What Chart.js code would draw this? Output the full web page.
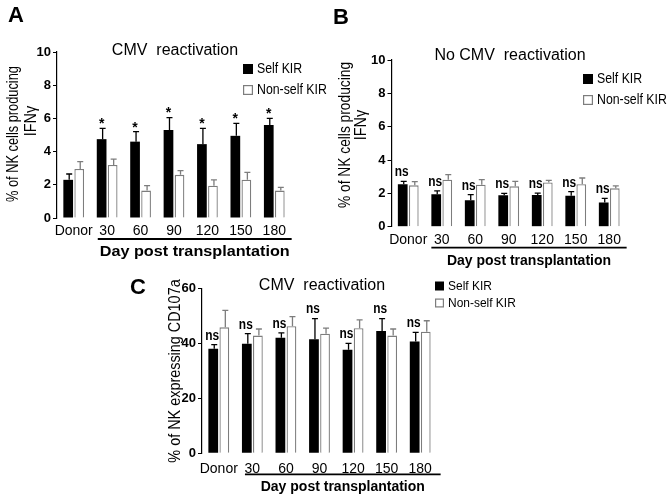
<!DOCTYPE html>
<html><head><meta charset="utf-8">
<script src="https://cdn.jsdelivr.net/npm/chart.js@4.4.0/dist/chart.umd.min.js"></script>
<style>
html,body{margin:0;padding:0;background:#fff;}
#wrap{position:relative;width:672px;height:500px;overflow:hidden;}
canvas{position:absolute;left:0;top:0;}
</style></head><body>
<div id="wrap">
<canvas id="cA" width="672" height="500"></canvas>
<canvas id="cB" width="672" height="500"></canvas>
<canvas id="cC" width="672" height="500"></canvas>
</div>
<script>
// ---------- data ----------
const categories = ['Donor', '30', '60', '90', '120', '150', '180'];
const seriesNames = ['Self KIR', 'Non-self KIR'];
const xAxisTitle = 'Day post transplantation';

// Panel A: CMV reactivation, % IFNγ+
const aSelf     = [2.3, 4.75, 4.6, 5.3, 4.45, 4.95, 5.6];
const aSelfErr  = [2.65, 5.4, 5.2, 6.05, 5.4, 5.7, 6.0];
const aNon      = [2.95, 3.2, 1.65, 2.6, 1.95, 2.3, 1.65];
const aNonErr   = [3.4, 3.55, 1.95, 2.85, 2.3, 2.75, 1.85];
const aSig      = ['', '*', '*', '*', '*', '*', '*'];

// Panel B: No CMV reactivation, % IFNγ+
const bSelf     = [2.55, 1.95, 1.58, 1.88, 1.9, 1.85, 1.45];
const bSelfErr  = [2.72, 2.15, 1.92, 2.0, 2.02, 2.1, 1.7];
const bNon      = [2.48, 2.82, 2.52, 2.42, 2.65, 2.55, 2.3];
const bNonErr   = [2.7, 3.12, 2.82, 2.72, 2.78, 2.92, 2.45];
const bSig      = ['ns', 'ns', 'ns', 'ns', 'ns', 'ns', 'ns'];

// Panel C: CMV reactivation, % CD107a+
const cSelf     = [38, 39.8, 42, 41.5, 37.7, 44.5, 40.7];
const cSelfErr  = [39.5, 43.5, 43.8, 49, 40, 49, 44];
const cNon      = [45.8, 42.8, 46.2, 43.5, 45.5, 42.8, 44.2];
const cNonErr   = [52, 45.2, 49.7, 45.5, 48.5, 45.2, 48.2];
const cSig      = ['ns', 'ns', 'ns', 'ns', 'ns', 'ns', 'ns'];

const yTicksIFN = [0, 2, 4, 6, 8, 10];
const yTicksCD  = [0, 20, 40, 60];

// ---------- styling ----------
const SANS = "'Liberation Sans', Arial, sans-serif";
const GREY = '#7d7d7d';

function fitText(ctx, text, cx, cy, font, scaleX, rotate, align) {
  ctx.save();
  ctx.font = font;
  ctx.translate(cx, cy);
  if (rotate) ctx.rotate(-Math.PI / 2);
  ctx.scale(scaleX || 1, 1);
  ctx.textAlign = align || 'center';
  ctx.textBaseline = 'middle';
  ctx.fillStyle = '#000';
  ctx.fillText(text, 0, 0);
  ctx.restore();
}

const decor = {
  id: 'decor',
  afterDatasetsDraw(chart, args, o) {
    const ctx = chart.ctx, ys = chart.scales.y;
    chart.data.datasets.forEach((ds, di) => {
      const meta = chart.getDatasetMeta(di);
      meta.data.forEach((bar, i) => {
        const top = ys.getPixelForValue(ds.errTop[i]);
        ctx.save();
        ctx.strokeStyle = di === 0 ? '#000' : GREY;
        ctx.lineWidth = 1.3;
        ctx.beginPath();
        ctx.moveTo(bar.x + 1, bar.y);
        ctx.lineTo(bar.x + 1, top);
        ctx.moveTo(bar.x - 2, top);
        ctx.lineTo(bar.x + 4, top);
        ctx.stroke();
        ctx.restore();
        if (di === 0 && o.sig[i]) {
          const star = o.sig[i] === '*';
          fitText(ctx, o.sig[i], bar.x - (star ? 0 : 1), top - (star ? 4 : 9),
            'bold 14px ' + SANS, star ? 1 : 0.85, false);
        }
      });
    });
  },
  afterDraw(chart, args, o) {
    const ctx = chart.ctx, ca = chart.chartArea;
    fitText(ctx, o.letter, o.letterPos[0], o.letterPos[1], 'bold 22px ' + SANS, 1, false);
    fitText(ctx, o.title, o.titlePos[0], o.titlePos[1], '16px ' + SANS, 1, false);
    o.yTitle.forEach(t => fitText(ctx, t.text, t.x, t.y, '16px ' + SANS, t.sx, true));
    const m0 = chart.getDatasetMeta(0).data[1];
    const m1 = chart.getDatasetMeta(1).data[categories.length - 1];
    const x0 = m0.x - m0.width / 2 + o.ulShift[0];
    const x1 = m1.x + m1.width / 2 + o.ulShift[1];
    ctx.save();
    ctx.strokeStyle = '#000';
    ctx.lineWidth = 1.8;
    ctx.beginPath();
    ctx.moveTo(x0, ca.bottom + 21);
    ctx.lineTo(x1, ca.bottom + 21);
    ctx.stroke();
    ctx.restore();
    fitText(ctx, xAxisTitle, (x0 + x1) / 2, ca.bottom + 34, o.xtFont, o.xtSx, false);
    const L = o.legend;
    ctx.save();
    ctx.fillStyle = '#000';
    ctx.fillRect(L.x, L.y1 - L.s / 2, L.s, L.s);
    ctx.fillStyle = '#fff';
    ctx.strokeStyle = GREY;
    ctx.lineWidth = 1.2;
    ctx.fillRect(L.x, L.y2 - L.s / 2, L.s, L.s);
    ctx.strokeRect(L.x + 0.6, L.y2 - L.s / 2 + 0.6, L.s - 1.2, L.s - 1.2);
    ctx.restore();
    fitText(ctx, seriesNames[0], L.x + L.s + 4, L.y1, L.font, L.sx, false, 'left');
    fitText(ctx, seriesNames[1], L.x + L.s + 4, L.y2, L.font, L.sx, false, 'left');
  }
};

function makePanel(id, area, self, selfErr, non, nonErr, yMax, yTickVals, deco) {
  const yW = 40, xH = 30;
  return new Chart(document.getElementById(id), {
    type: 'bar',
    data: {
      labels: categories,
      datasets: [
        { label: seriesNames[0], data: self, errTop: selfErr, backgroundColor: '#000', borderWidth: 0 },
        { label: seriesNames[1], data: non, errTop: nonErr, backgroundColor: '#fff', borderColor: GREY, borderWidth: 1.3 }
      ]
    },
    options: {
      responsive: false,
      animation: false,
      devicePixelRatio: 1,
      layout: { padding: { left: area.l - yW, top: area.t, right: 672 - area.r, bottom: 500 - area.b - xH } },
      datasets: { bar: { categoryPercentage: 0.66, barPercentage: 0.88 } },
      scales: {
        x: {
          grid: { display: false },
          border: { display: false },
          ticks: { color: '#000', font: { family: SANS, size: 14 }, padding: area.xpad, maxRotation: 0, autoSkip: false },
          afterFit(s) { s.height = xH; }
        },
        y: {
          min: 0, max: yMax,
          afterBuildTicks(s) { s.ticks = yTickVals.map(v => ({ value: v })); },
          grid: { display: true, drawOnChartArea: false, drawTicks: true, tickLength: 4, color: '#000' },
          border: { display: true, color: '#000', width: 1.2 },
          ticks: { color: '#000', font: { family: SANS, size: 13, weight: 'bold' }, padding: 2 },
          afterFit(s) { s.width = yW; }
        }
      },
      plugins: { legend: { display: false }, tooltip: { enabled: false }, decor: deco }
    },
    plugins: [decor]
  });
}

makePanel('cA', { l: 57, t: 52, r: 291, b: 218, xpad: -3 }, aSelf, aSelfErr, aNon, aNonErr, 10, yTicksIFN, {
  sig: aSig, letter: 'A', letterPos: [16, 16], title: 'CMV  reactivation', titlePos: [175, 51],
  yTitle: [{ text: '% of NK cells producing', x: 14, y: 134, sx: 0.8 }, { text: 'IFNγ', x: 32, y: 121, sx: 0.9 }],
  ulShift: [1, 7], xtFont: 'bold 15px ' + SANS, xtSx: 1.08,
  legend: { x: 243, y1: 69, y2: 90, s: 10, font: '14px ' + SANS, sx: 0.88 }
});
makePanel('cB', { l: 391.5, t: 60, r: 626, b: 226.7, xpad: -3 }, bSelf, bSelfErr, bNon, bNonErr, 10, yTicksIFN, {
  sig: bSig, letter: 'B', letterPos: [341, 18], title: 'No CMV  reactivation', titlePos: [510, 56],
  yTitle: [{ text: '% of NK cells producing', x: 346, y: 135, sx: 0.86 }, { text: 'IFNγ', x: 362, y: 125, sx: 0.9 }],
  ulShift: [0, 7], xtFont: 'bold 14px ' + SANS, xtSx: 1,
  legend: { x: 583, y1: 79, y2: 100, s: 10, font: '14px ' + SANS, sx: 0.88 }
});
makePanel('cC', { l: 202, t: 288.3, r: 437, b: 453.3, xpad: -1 }, cSelf, cSelfErr, cNon, cNonErr, 60, yTicksCD, {
  sig: cSig, letter: 'C', letterPos: [138, 288], title: 'CMV  reactivation', titlePos: [322, 286],
  yTitle: [{ text: '% of NK expressing CD107a', x: 176, y: 371, sx: 0.9 }],
  ulShift: [3, 10], xtFont: 'bold 14px ' + SANS, xtSx: 1,
  legend: { x: 435, y1: 286, y2: 303, s: 9, font: '13px ' + SANS, sx: 0.92 }
});
</script>
</body></html>
